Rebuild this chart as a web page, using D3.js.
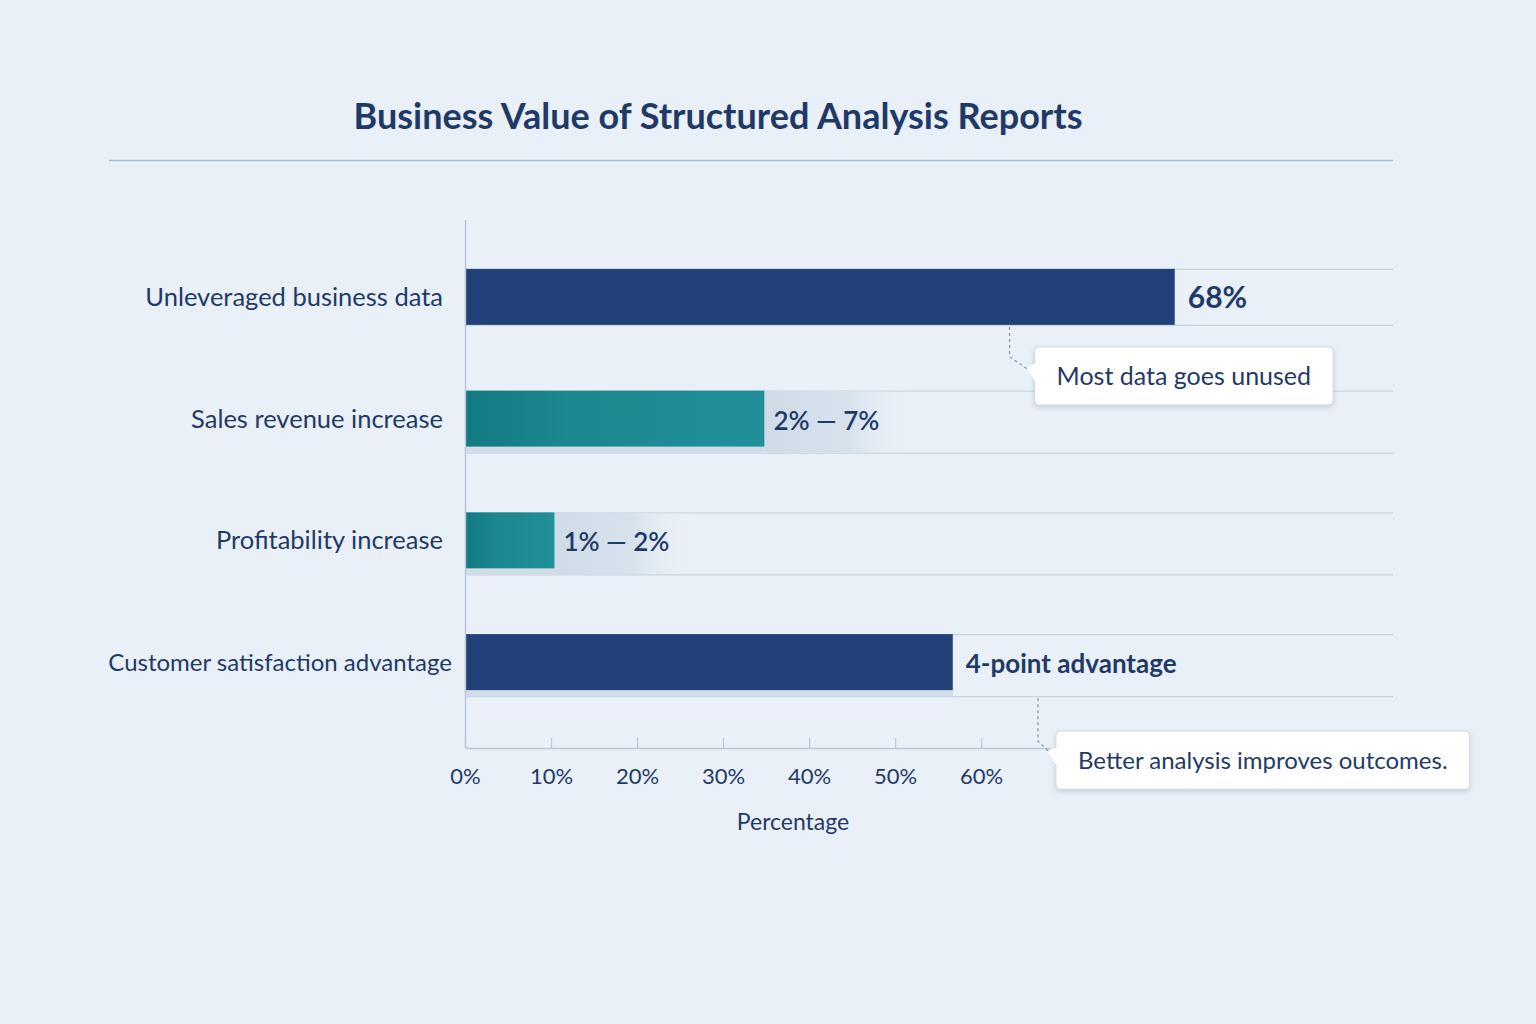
<!DOCTYPE html>
<html>
<head>
<meta charset="utf-8">
<script src="https://cdn.jsdelivr.net/npm/d3@7"></script>
<style>
  html, body { margin: 0; padding: 0; background: #eaf0f7; }
  svg { display: block; font-family: Lato, "Open Sans", sans-serif; }
</style>
</head>
<body>
<svg id="chart"></svg>
<script>
// ---- data ----
const categories = ["Unleveraged business data", "Sales revenue increase", "Profitability increase", "Customer satisfaction advantage"];
const barValues = [82.5, 34.8, 10.4, 56.7];   // bar length as read on the axis
const valueLabels = ["68%", "2% \u2014 7%", "1% \u2014 2%", "4-point advantage"];
const barKinds = ["navy", "teal", "teal", "navy"];
const xTicks = [0, 10, 20, 30, 40, 50, 60];
const callouts = [
    { row: 0, at: 63.3, text: "Most data goes unused" },
    { row: 3, at: 66.6, text: "Better analysis improves outcomes." }
];

const W = 1536, H = 1024;
const ink = "#1f3a68";

const svg = d3.select("#chart").attr("width", W).attr("height", H);
svg.append("rect").attr("width", W).attr("height", H).attr("fill", "#eaf0f7");

const defs = svg.append("defs");
let tealGrad = defs.append("linearGradient").attr("id", "teal").attr("x1", "0%").attr("x2", "100%");
tealGrad.append("stop").attr("offset", "0%").attr("stop-color", "#127a82");
tealGrad.append("stop").attr("offset", "35%").attr("stop-color", "#1c8890");
tealGrad.append("stop").attr("offset", "100%").attr("stop-color", "#219099");

let trackGrad = defs.append("linearGradient").attr("id", "track").attr("x1", "0%").attr("x2", "100%");
trackGrad.append("stop").attr("offset", "0%").attr("stop-color", "#cfdce8");
trackGrad.append("stop").attr("offset", "55%").attr("stop-color", "#d6e1ec");
trackGrad.append("stop").attr("offset", "100%").attr("stop-color", "#eaf0f7").attr("stop-opacity", 0);

let shadow = defs.append("filter").attr("id", "shadow").attr("x", "-10%").attr("y", "-20%").attr("width", "120%").attr("height", "160%");
shadow.append("feDropShadow").attr("dx", 0).attr("dy", 2).attr("stdDeviation", 2.5)
    .attr("flood-color", "#5a7394").attr("flood-opacity", 0.28);

// title
svg.append("text")
    .attr("x", 718).attr("y", 129)
    .attr("text-anchor", "middle")
    .attr("font-size", 36).attr("font-weight", 700)
    .attr("fill", ink)
    .text("Business Value of Structured Analysis Reports");

svg.append("line")
    .attr("x1", 109).attr("x2", 1393).attr("y1", 160.5).attr("y2", 160.5)
    .attr("stroke", "#a9bbd0").attr("stroke-width", 1.5);

// scales
const x = d3.scaleLinear().domain([0, 68]).range([465, 1050]);
const y = d3.scaleBand().domain(categories).range([236, 723]).paddingInner(0.54).paddingOuter(0.27);
const gridRight = 1393;

const g = svg.append("g");

// row boundaries
const rows = g.selectAll("g.row").data(categories).join("g").attr("class", "row");
rows.each(function (c, i) {
    const r = d3.select(this);
    const y0 = y(c), y1 = y(c) + y.bandwidth();
    const under = i === 0 ? 0 : 6;
    [y0, y1 + under].forEach(v => {
        r.append("line")
            .attr("x1", x(0)).attr("x2", gridRight)
            .attr("y1", v + 0.5).attr("y2", v + 0.5)
            .attr("stroke", "#c6d3e1").attr("stroke-width", 1.2);
    });
    // track under the bar
    r.append("rect")
        .attr("x", x(0)).attr("y", y1).attr("width", x(barValues[i]) - x(0)).attr("height", under)
        .attr("fill", "#d1dce8");
    if (barKinds[i] === "teal") {
        r.append("rect")
            .attr("x", x(barValues[i])).attr("y", y0)
            .attr("width", i === 1 ? 150 : 140).attr("height", y.bandwidth() + under)
            .attr("fill", "url(#track)");
    }
});

// bars
g.selectAll("rect.bar").data(categories).join("rect")
    .attr("class", "bar")
    .attr("x", x(0))
    .attr("y", c => y(c))
    .attr("width", (c, i) => x(barValues[i]) - x(0))
    .attr("height", y.bandwidth())
    .attr("fill", (c, i) => barKinds[i] === "navy" ? "#22417a" : "url(#teal)");

// value labels
g.selectAll("text.value").data(categories).join("text")
    .attr("class", "value")
    .attr("x", (c, i) => x(barValues[i]) + (barKinds[i] === "navy" ? 13 : 9))
    .attr("y", c => y(c) + y.bandwidth() / 2 + 11)
    .attr("font-size", (c, i) => i === 0 ? 30 : 26)
    .attr("font-weight", (c, i) => barKinds[i] === "navy" ? 700 : 600)
    .attr("fill", ink)
    .text((c, i) => valueLabels[i]);

// category labels
g.selectAll("text.cat").data(categories).join("text")
    .attr("class", "cat")
    .attr("x", (c, i) => i === 3 ? 452 : 443)
    .attr("y", c => y(c) + y.bandwidth() / 2 + 9)
    .attr("text-anchor", "end")
    .attr("font-size", (c, i) => i === 3 ? 24 : 25.5)
    .attr("fill", ink)
    .text(c => c);

// y axis line
g.append("line")
    .attr("x1", x(0) + 0.5).attr("x2", x(0) + 0.5).attr("y1", 220).attr("y2", 748)
    .attr("stroke", "#b9c7d7").attr("stroke-width", 1.5);

// x axis
const xAxis = g.append("g")
    .attr("transform", "translate(0,748)")
    .call(d3.axisBottom(x).tickValues(xTicks).tickFormat(d => d + "%").tickSizeInner(-10).tickSizeOuter(0).tickPadding(20));
xAxis.select(".domain").attr("stroke", "#b9c7d7").attr("stroke-width", 1.5);
xAxis.selectAll(".tick line").attr("stroke", "#b9c7d7").attr("stroke-width", 1.2);
xAxis.selectAll(".tick text")
    .attr("fill", ink).attr("font-size", 22).attr("font-family", "Lato, sans-serif");

svg.append("text")
    .attr("x", 793).attr("y", 830)
    .attr("text-anchor", "middle")
    .attr("font-size", 23).attr("fill", ink)
    .text("Percentage");

// callouts
callouts.forEach(co => {
    const c = categories[co.row];
    const last = co.row === 3;
    const yb = y(c) + y.bandwidth() + (last ? 8 : 2);
    const cx = x(co.at);
    const boxX = cx + (last ? 18 : 25), boxY = yb + (last ? 33 : 20);
    const cg = svg.append("g");
    const t = cg.append("text")
        .attr("font-size", last ? 24 : 25).attr("fill", ink)
        .text(co.text);
    const tw = t.node().getComputedTextLength();
    const bw = tw + 44, bh = 58;
    cg.insert("rect", "text")
        .attr("x", boxX).attr("y", boxY).attr("width", bw).attr("height", bh)
        .attr("rx", 4).attr("fill", "#ffffff")
        .attr("stroke", "#cfdae6").attr("stroke-width", 1)
        .attr("filter", "url(#shadow)");
    t.attr("x", boxX + 22).attr("y", boxY + bh / 2 + 9);
    cg.append("path")
        .attr("d", `M${cx},${yb} V${boxY + 10} L${boxX},${boxY + bh / 2 - 2}`)
        .attr("fill", "none").attr("stroke", "#7f93ad").attr("stroke-width", 1.2)
        .attr("stroke-dasharray", "3,3");
    cg.append("path")
        .attr("d", `M${boxX + 1},${boxY + 16} L${boxX - 8},${boxY + bh / 2 - 8} L${boxX + 1},${boxY + bh / 2 + 6} Z`)
        .attr("fill", "#ffffff");
});
</script>
</body>
</html>
